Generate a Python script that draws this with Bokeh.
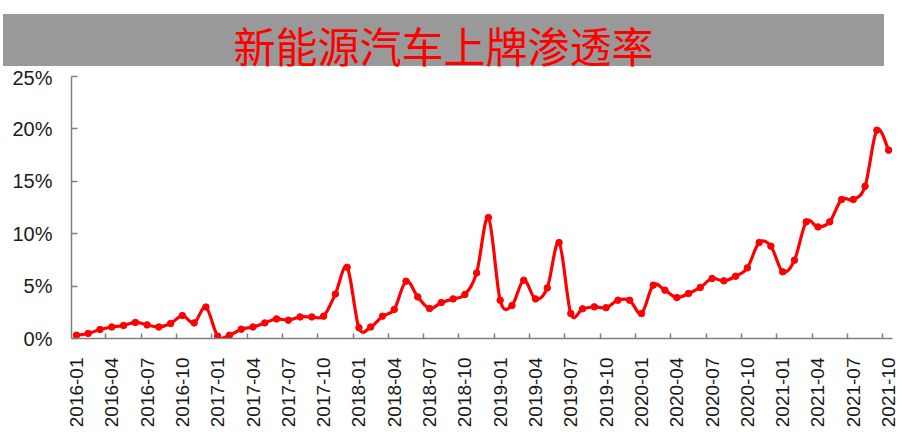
import numpy as np
from bokeh.plotting import figure
from bokeh.models import Div, FixedTicker, Range1d, PrintfTickFormatter, ColumnDataSource
from bokeh.layouts import column
from bokeh.embed import file_html
from bokeh.resources import INLINE

title_text = "新能源汽车上牌渗透率"

years = [2016, 2017, 2018, 2019, 2020, 2021]
months = [f"{y}-{m:02d}" for y in years for m in range(1, 13)][:70]

rate_2016 = [0.31, 0.48, 0.86, 1.10, 1.24, 1.53, 1.30, 1.10, 1.43, 2.19, 1.49, 3.00]
rate_2017 = [0.22, 0.31, 0.89, 1.10, 1.49, 1.87, 1.75, 2.06, 2.06, 2.13, 4.25, 6.80]
rate_2018 = [1.03, 1.10, 2.13, 2.77, 5.47, 3.97, 2.86, 3.43, 3.78, 4.20, 6.26, 11.54]
rate_2019 = [3.65, 3.15, 5.56, 3.78, 4.83, 9.16, 2.38, 2.83, 3.02, 2.94, 3.65, 3.65]
rate_2020 = [2.38, 5.09, 4.61, 3.91, 4.29, 4.87, 5.72, 5.50, 5.94, 6.74, 9.16, 8.81]
rate_2021 = [6.36, 7.47, 11.13, 10.65, 11.13, 13.26, 13.26, 14.53, 19.88, 17.97]
rates = rate_2016 + rate_2017 + rate_2018 + rate_2019 + rate_2020 + rate_2021

y_ticks = [0, 5, 10, 15, 20, 25]
label_step = 3

x = np.arange(len(rates), dtype=float)
y = np.array(rates, dtype=float)

# smoothed line (Excel-style) via cubic Bezier segments derived from the data
xp = np.concatenate([[x[0]], x, [x[-1]]])
yp = np.concatenate([[y[0]], y, [y[-1]]])
n = len(x)
seg = dict(
    x0=x[:-1], y0=y[:-1], x1=x[1:], y1=y[1:],
    cx0=x[:-1] + (xp[2:n+1] - xp[0:n-1]) / 6.0,
    cy0=y[:-1] + (yp[2:n+1] - yp[0:n-1]) / 6.0,
    cx1=x[1:] - (xp[3:n+2] - xp[1:n]) / 6.0,
    cy1=y[1:] - (yp[3:n+2] - yp[1:n]) / 6.0,
)

banner = Div(
    text=(
        '<div style="margin-top:14px;margin-left:3px;width:881px;height:52px;background:#999999;'
        'text-align:center;box-sizing:border-box;padding-top:10px;">'
        '<div style="color:#ff0000;font-family:\'Noto Sans CJK SC\';font-size:42px;'
        'line-height:42px;height:42px;white-space:nowrap;">'
        + title_text + '</div></div>'
    ),
    width=900, height=66, margin=(0, 0, 0, 0),
)

p = figure(
    frame_width=821, frame_height=262,
    x_range=Range1d(-0.42, 69.33), y_range=Range1d(0, 25),
    output_backend="svg", toolbar_location=None,
    min_border_left=71, min_border_top=10, min_border_right=8, min_border_bottom=0,
)
p.margin = (0, 0, 0, 0)
p.outline_line_color = None
p.xgrid.visible = False
p.ygrid.visible = False

p.bezier(x0="x0", y0="y0", x1="x1", y1="y1", cx0="cx0", cy0="cy0", cx1="cx1", cy1="cy1",
         source=ColumnDataSource(seg), line_color="#ff0000", line_width=3.2)
p.scatter(x, y, marker="circle", size=6.5, fill_color="#ff0000", line_color="#ff0000")

axis_color = "#7f7f7f"
label_font = "Liberation Sans"

xa = p.xaxis[0]
major = list(range(0, len(months), label_step))
xa.ticker = FixedTicker(ticks=major, minor_ticks=[t + 2.5 for t in major if t + 2.5 < len(months)])
xa.major_label_overrides = {t: months[t] for t in major}
xa.major_label_orientation = np.pi / 2
xa.major_tick_line_color = None
xa.minor_tick_line_color = axis_color
xa.minor_tick_line_width = 1.5
xa.minor_tick_in = 5
xa.minor_tick_out = 0
xa.axis_line_color = axis_color
xa.axis_line_width = 1.5
xa.major_label_standoff = 13
xa.major_label_text_font = label_font
xa.major_label_text_font_size = "19px"
xa.major_label_text_color = "#1a1a1a"

ya = p.yaxis[0]
ya.ticker = FixedTicker(ticks=y_ticks, minor_ticks=[])
ya.formatter = PrintfTickFormatter(format="%d%%")
ya.major_tick_in = 6
ya.major_tick_out = 0
ya.major_tick_line_color = axis_color
ya.major_tick_line_width = 1.5
ya.axis_line_color = axis_color
ya.axis_line_width = 1.5
ya.major_label_standoff = 19
ya.major_label_text_font = label_font
ya.major_label_text_font_size = "20px"
ya.major_label_text_color = "#1a1a1a"

layout = column(banner, p, spacing=0)
open("out.html", "w").write(file_html(layout, INLINE))
